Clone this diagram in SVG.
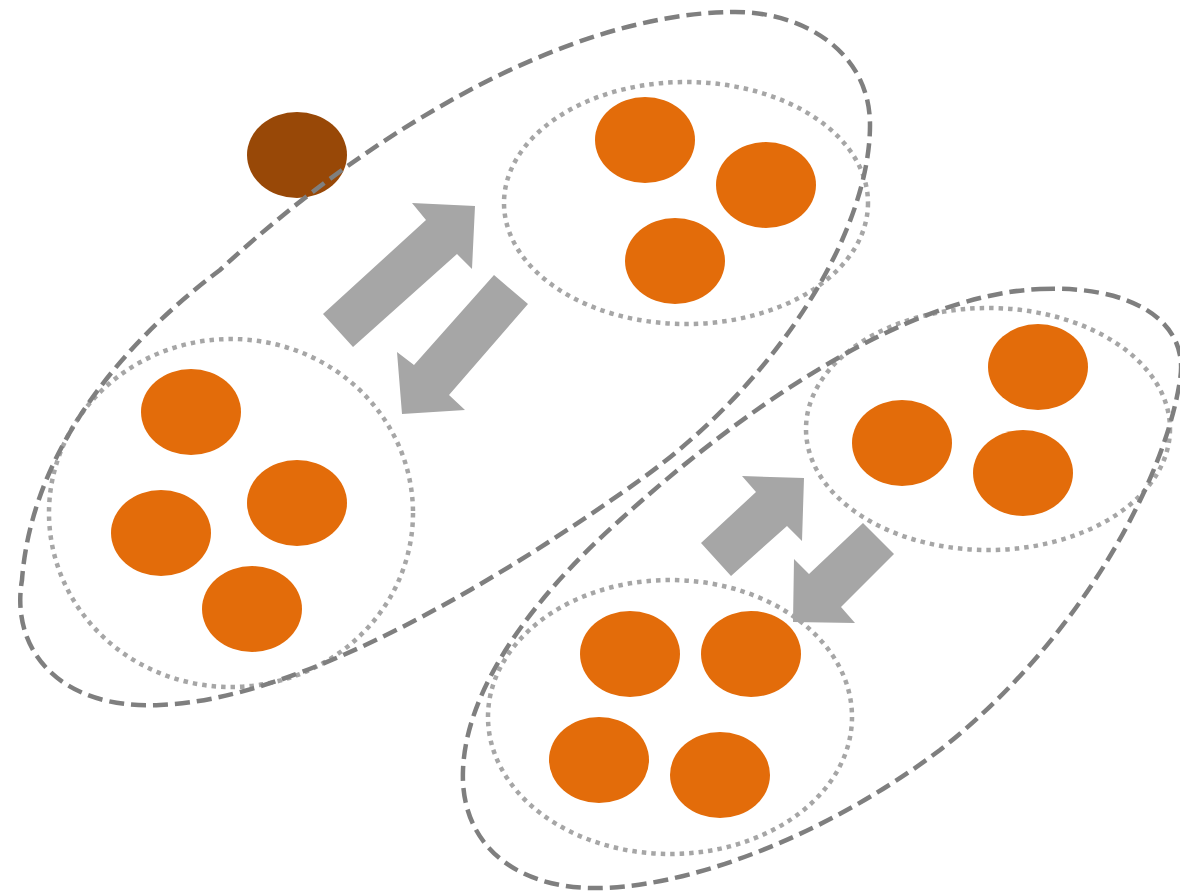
<svg xmlns="http://www.w3.org/2000/svg" width="1180" height="893" viewBox="0 0 1180 893">
<style>
.dot{fill:#E36C0A}
.brown{fill:#984807}
.grp{fill:none;stroke:#A6A6A6;stroke-width:4.5;stroke-dasharray:4.5 5}
.outer{fill:none;stroke:#7F7F7F;stroke-width:4.5;stroke-dasharray:15 7}
.arr{fill:#A6A6A6}
</style>
<rect width="1180" height="893" fill="#FFFFFF"/>
<g id="brown-node"><ellipse class="brown" cx="297" cy="155" rx="50" ry="43"/></g>
<g id="connectors">
<polygon class="arr" points="323,314 426,220 412,203 475,206 472,269 457,254 353,347"/>
<polygon class="arr" points="494,275 528,304 449,395 465,410 402,414 397,352 414,365"/>
<polygon class="arr" points="701,543 756,492 742,476 804,478 802,541 787,526 731,576"/>
<polygon class="arr" points="863,523 894,554 841,607 855,623 793,622 794,559 809,574"/>
</g>
<g id="group-top">
<ellipse class="grp" cx="686" cy="203" rx="182" ry="121"/>
<ellipse class="dot" cx="645" cy="140" rx="50" ry="43"/>
<ellipse class="dot" cx="766" cy="185" rx="50" ry="43"/>
<ellipse class="dot" cx="675" cy="261" rx="50" ry="43"/>
</g>
<g id="group-left">
<ellipse class="grp" cx="231" cy="513" rx="182" ry="174"/>
<ellipse class="dot" cx="191" cy="412" rx="50" ry="43"/>
<ellipse class="dot" cx="297" cy="503" rx="50" ry="43"/>
<ellipse class="dot" cx="161" cy="533" rx="50" ry="43"/>
<ellipse class="dot" cx="252" cy="609" rx="50" ry="43"/>
</g>
<g id="group-right">
<ellipse class="grp" cx="988" cy="429" rx="182" ry="121"/>
<ellipse class="dot" cx="1038" cy="367" rx="50" ry="43"/>
<ellipse class="dot" cx="902" cy="443" rx="50" ry="43"/>
<ellipse class="dot" cx="1023" cy="473" rx="50" ry="43"/>
</g>
<g id="group-bottom">
<ellipse class="grp" cx="670" cy="717" rx="182" ry="137"/>
<ellipse class="dot" cx="630" cy="654" rx="50" ry="43"/>
<ellipse class="dot" cx="751" cy="654" rx="50" ry="43"/>
<ellipse class="dot" cx="599" cy="760" rx="50" ry="43"/>
<ellipse class="dot" cx="720" cy="775" rx="50" ry="43"/>
</g>
<g id="outline-1"><path class="outer" d="M 730,12 C 800,10 870,50 870,125 C 870,230 780,380 640,480 C 500,580 300,700 160,705 C 60,710 10,650 22,580 C 30,470 100,360 220,270 C 360,140 560,15 730,12 Z"/></g>
<g id="outline-2"><path class="outer" d="M 1040,289 C 1130,285 1190,320 1180,380 C 1165,480 1080,640 940,750 C 820,840 680,890 590,888 C 510,886 460,840 463,770 C 466,690 530,600 620,520 C 730,420 900,295 1040,289 Z"/></g>
</svg>
